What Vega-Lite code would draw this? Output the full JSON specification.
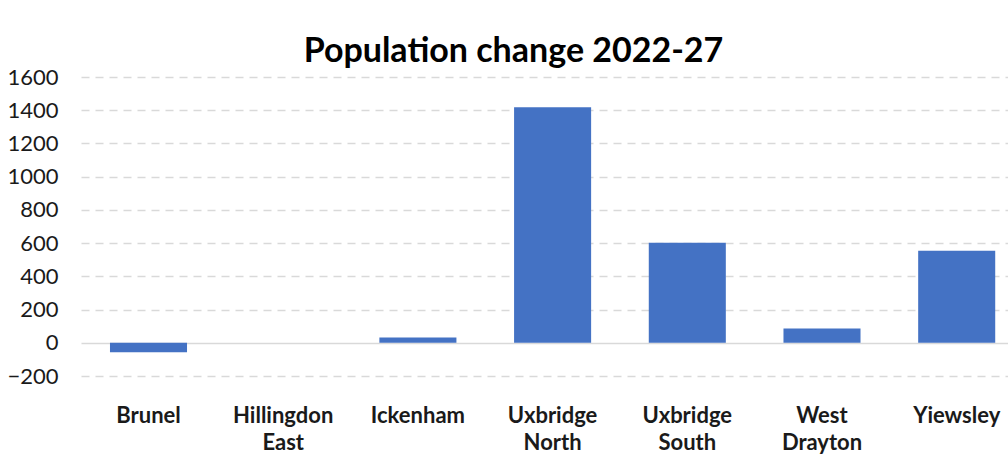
{
  "$schema": "https://vega.github.io/schema/vega-lite/v6.json",
  "autosize": {"type": "none"},
  "padding": {"left": 81, "top": 77, "right": 0, "bottom": 89},
  "width": 927,
  "height": 299,
  "background": "white",
  "title": {
    "text": "Population change 2022-27",
    "font": "Lato",
    "fontSize": 34,
    "fontWeight": "bold",
    "color": "#000000",
    "anchor": "middle",
    "frame": "bounds",
    "baseline": "alphabetic",
    "offset": 11,
    "dy": 41,
    "dx": 6
  },
  "data": {
    "values": [
      {"ward": "Brunel", "change": -57},
      {"ward": "Hillingdon East", "change": 0},
      {"ward": "Ickenham", "change": 32},
      {"ward": "Uxbridge North", "change": 1418},
      {"ward": "Uxbridge South", "change": 602},
      {"ward": "West Drayton", "change": 86},
      {"ward": "Yiewsley", "change": 554}
    ]
  },
  "mark": {"type": "bar", "color": "#4472C4"},
  "encoding": {
    "x": {
      "field": "ward",
      "type": "nominal",
      "sort": null,
      "title": null,
      "scale": {"paddingInner": 0.428, "paddingOuter": 0.155, "align": 0.694},
      "axis": {
        "orient": "bottom",
        "domain": false,
        "ticks": false,
        "tickSize": 0,
        "labelAngle": 0,
        "labelFont": "Lato",
        "labelFontSize": 22,
        "labelFontWeight": "bold",
        "labelColor": "#1a1a1a",
        "labelPadding": 29,
        "labelBaseline": "top",
        "labelLineHeight": 27,
        "labelExpr": "split(datum.label, ' ')",
        "offset": 0
      }
    },
    "y": {
      "field": "change",
      "type": "quantitative",
      "title": null,
      "scale": {"domain": [-200, 1600], "nice": false, "zero": false},
      "axis": {
        "values": [-200, 0, 200, 400, 600, 800, 1000, 1200, 1400, 1600],
        "format": "d",
        "domain": false,
        "ticks": false,
        "tickSize": 0,
        "labelFont": "Lato",
        "labelFontSize": 22,
        "labelColor": "#1a1a1a",
        "labelPadding": 23,
        "grid": true,
        "gridColor": "#d9d9d9",
        "gridWidth": 1.6,
        "gridDash": {"condition": {"test": "datum.value === 0", "value": []}, "value": [8, 6]}
      }
    }
  },
  "config": {"view": {"stroke": null}}
}
